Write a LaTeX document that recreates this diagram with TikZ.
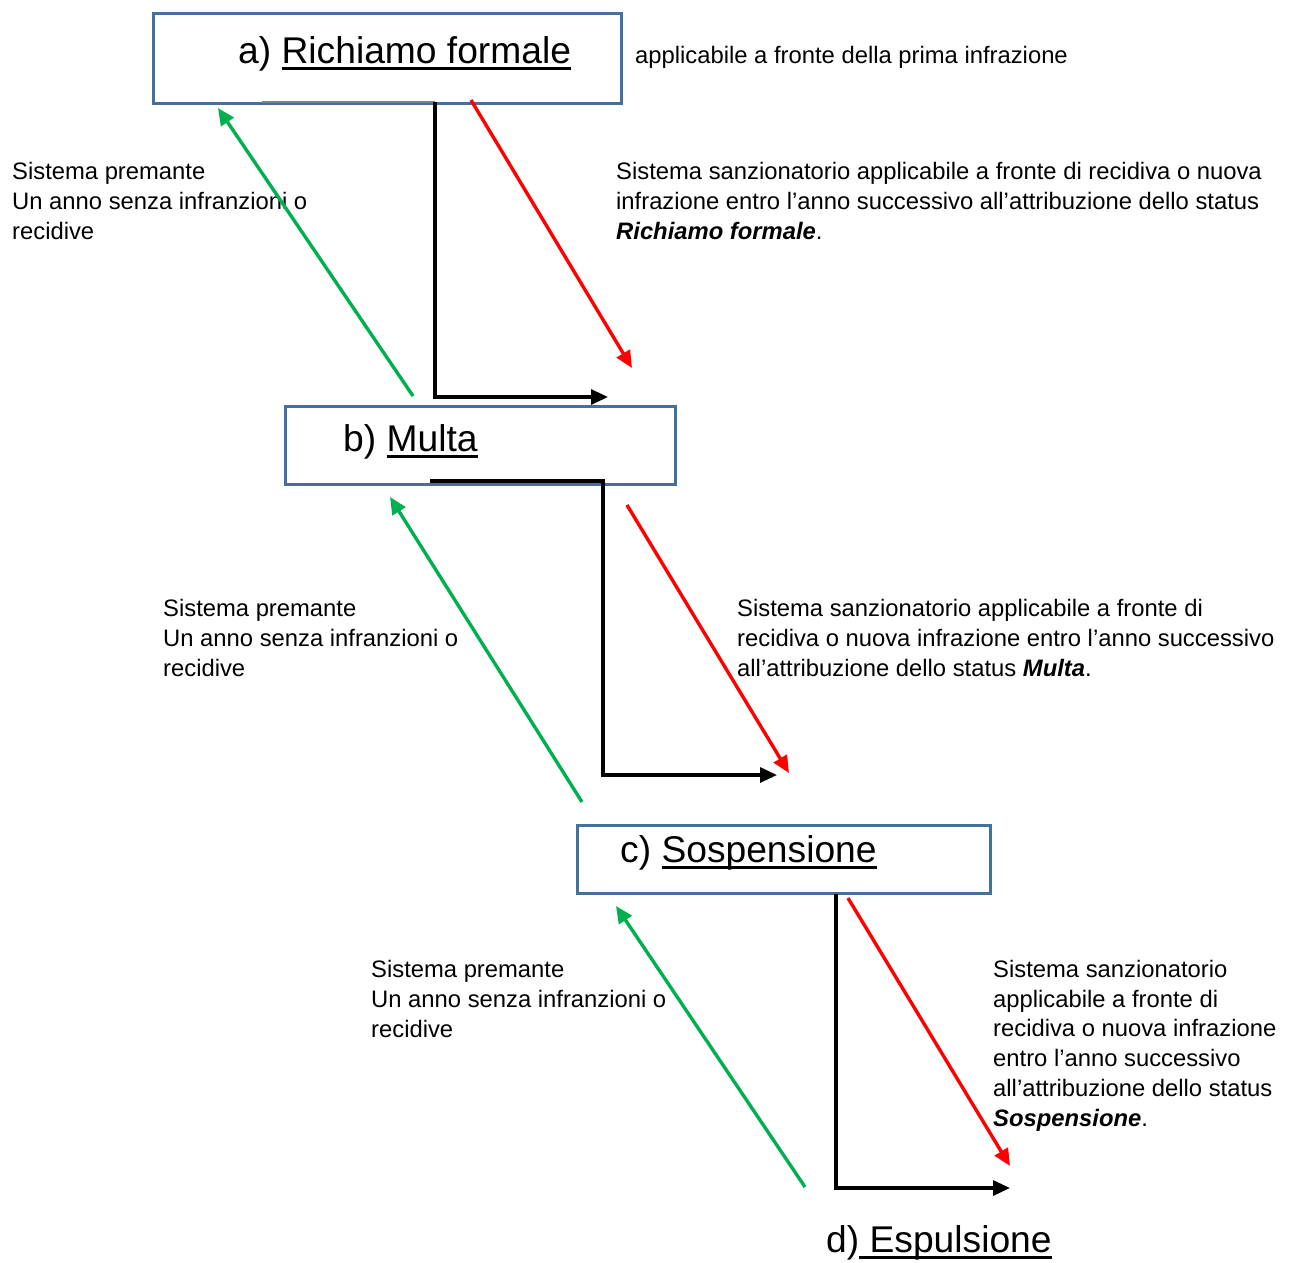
\documentclass[tikz,border=0pt]{standalone}
\usepackage{fontspec}
\setmainfont{Liberation Sans}
\usetikzlibrary{arrows.meta,calc}
\definecolor{boxblue}{RGB}{65,113,156}
\definecolor{okgreen}{RGB}{0,176,80}
\definecolor{edgegray}{RGB}{128,128,128}
\newcommand\myul[1]{\setbox0\hbox{#1}\rlap{\rule[-7pt]{\wd0}{3pt}}\box0}
\begin{document}
\begin{tikzpicture}[x=1pt,y=-1pt,
  box/.style={draw=boxblue, line width=2.8pt, inner sep=0pt, rectangle, anchor=north west},
  title/.style={anchor=base west, inner sep=0pt, font=\fontsize{37.2}{44}\selectfont},
  note/.style={anchor=base west, inner sep=0pt, align=left, font=\fontsize{23.8}{29.7}\selectfont},
  up/.style={draw=okgreen, line width=3.4pt, -{Triangle[length=17pt,width=15pt]}},
  down/.style={draw=red, line width=3.4pt, -{Triangle[length=17pt,width=15pt]}},
  flow/.style={draw=black, line width=3.2pt, -{Triangle[length=17pt,width=15pt]}}]
\useasboundingbox (0,0) rectangle (1290,1262);

% boxes
\node[box, minimum width=468pt, minimum height=90pt] (A) at (152,12) {};
\node[box, minimum width=390pt, minimum height=78pt] (B) at (284,405) {};
\node[box, minimum width=413pt, minimum height=68pt] (C) at (576,824) {};

% titles
\node[title] (tA) at (238,63) {a) \myul{Richiamo formale}};
\node[title] (tB) at (343,451) {b) \myul{Multa}};
\node[title] (tC) at (620,862) {c) \myul{Sospensione}};
\node[title] (tD) at (826,1252) {d)\myul{ Espulsione}};

% notes (anchor = baseline of the last line)
\node[note] (n0) at (635,63) {applicabile a fronte della prima infrazione};
\node[note] (g1) at (12,239) {Sistema premante\\Un anno senza infranzioni o\\recidive};
\node[note] (g2) at (163,676) {Sistema premante\\Un anno senza infranzioni o\\recidive};
\node[note] (g3) at (371,1037) {Sistema premante\\Un anno senza infranzioni o\\recidive};
\node[note] (r1) at (616,239) {Sistema sanzionatorio applicabile a fronte di recidiva o nuova\\infrazione entro l’anno successivo all’attribuzione dello status\\\textbf{\textit{Richiamo formale}}.};
\node[note] (r2) at (737,676) {Sistema sanzionatorio applicabile a fronte di\\recidiva o nuova infrazione entro l’anno successivo\\all’attribuzione dello status \textbf{\textit{Multa}}.};
\node[note] (r3) at (993,1126) {Sistema sanzionatorio\\applicabile a fronte di\\recidiva o nuova infrazione\\entro l’anno successivo\\all’attribuzione dello status\\\textbf{\textit{Sospensione}}.};

% connector end points
\coordinate (g1s) at (413,396);  \coordinate (g1e) at (218,108);
\coordinate (r1s) at (471,100);  \coordinate (r1e) at (632,368);
\coordinate (f1a) at (262,102);  \coordinate (f1s) at (435,102);  \coordinate (f1e) at (608,397);
\coordinate (g2s) at (582,802);  \coordinate (g2e) at (390,497);
\coordinate (r2s) at (627,505);  \coordinate (r2e) at (789,773);
\coordinate (f2a) at (430,481);  \coordinate (f2s) at (603,481);  \coordinate (f2e) at (777,775);
\coordinate (g3s) at (805,1187); \coordinate (g3e) at (616,906);
\coordinate (r3s) at (848,898);  \coordinate (r3e) at (1010,1166);
\coordinate (f3s) at (836,894);  \coordinate (f3e) at (1010,1188);

% connectors
\draw[edgegray, line width=2.8pt] (f1a) -- (f1s);
\draw[flow] (f1s) |- (f1e);
\draw[up] (g1s) -- (g1e);
\draw[down] (r1s) -- (r1e);

\draw[flow] (f2a) -- (f2s) |- (f2e);
\draw[up] (g2s) -- (g2e);
\draw[down] (r2s) -- (r2e);

\draw[flow] (f3s) |- (f3e);
\draw[up] (g3s) -- (g3e);
\draw[down] (r3s) -- (r3e);
\end{tikzpicture}
\end{document}
